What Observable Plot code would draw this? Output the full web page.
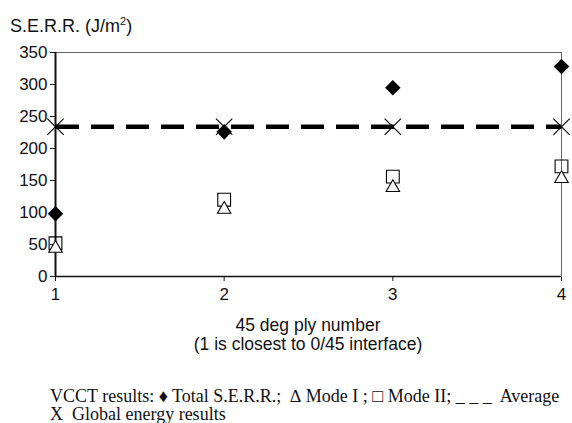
<!DOCTYPE html>
<html><head><meta charset="utf-8">
<script src="https://cdn.jsdelivr.net/npm/d3@7"></script>
<script src="https://cdn.jsdelivr.net/npm/@observablehq/plot@0.6"></script>
<style>
body{margin:0;background:#fff;width:572px;height:423px;overflow:hidden;font-family:"Liberation Sans",Arial,sans-serif;color:#111}
#title{position:absolute;left:10px;top:9px;font-size:18px;line-height:24px}
#chart{position:absolute;left:0;top:40px}
#xlab{position:absolute;left:55px;width:506px;top:316px;text-align:center;font-size:17.5px;line-height:19px}
#legend{position:absolute;left:50px;top:387px;font-family:"Liberation Serif","Times New Roman",serif;font-size:18px;line-height:18px;white-space:pre}
</style></head><body>
<div id="title">S.E.R.R. (J/m<sup style="font-size:11px">2</sup>)</div>
<div id="chart"></div>
<div id="xlab">45 deg ply number<br>(1 is closest to 0/45 interface)</div>
<div id="legend">VCCT results: ♦ Total S.E.R.R.;  ∆ Mode I ; □ Mode II; _ _ _  Average
X  Global energy results</div>
<script>
const plies = [1, 2, 3, 4];
const totalSERR = [98, 226, 295, 328];
const modeI = [44, 105, 139, 153];
const modeII = [52, 120, 156, 172];
const globalEnergy = [234, 234, 234, 234];
const average = 234;
const yTicks = [0, 50, 100, 150, 200, 250, 300, 350];

const rows = plies.map((p, i) => ({p, total: totalSERR[i], m1: modeI[i], m2: modeII[i], g: globalEnergy[i]}));

const chart = Plot.plot({
  width: 572, height: 320,
  marginLeft: 55, marginRight: 11, marginTop: 12, marginBottom: 84,
  style: {fontSize: "17px", fontFamily: "Liberation Sans, Arial, sans-serif", color: "#111", overflow: "visible"},
  x: {domain: [1, 4], ticks: plies, tickFormat: d3.format("d"), label: null, tickSize: 5, tickPadding: 6},
  y: {domain: [0, 350], ticks: yTicks, label: null, tickSize: 5, tickPadding: 3},
  marks: [
    Plot.frame({stroke: "#666", strokeWidth: 1}),
    Plot.ruleY([0], {stroke: "#111", strokeWidth: 1.5}),
    Plot.ruleX([1], {stroke: "#111", strokeWidth: 2}),
    Plot.ruleY([average], {stroke: "#000", strokeWidth: 4.5, strokeDasharray: "23,12", strokeDashoffset: -1}),
    Plot.dot(rows, {x: "p", y: "g", symbol: "times", r: 7.5, stroke: "#000", strokeWidth: 1.1}),
    Plot.dot(rows, {x: "p", y: "m2", symbol: "square", r: 7.2, stroke: "#000", fill: "none", strokeWidth: 1.1}),
    Plot.dot(rows, {x: "p", y: "m1", symbol: "triangle", r: 5, stroke: "#000", fill: "white", strokeWidth: 1.1}),
    Plot.dot(rows, {x: "p", y: "total", symbol: "diamond2", r: 7, fill: "#000", stroke: "none"})
  ]
});
document.getElementById("chart").appendChild(chart);
</script>
</body></html>
